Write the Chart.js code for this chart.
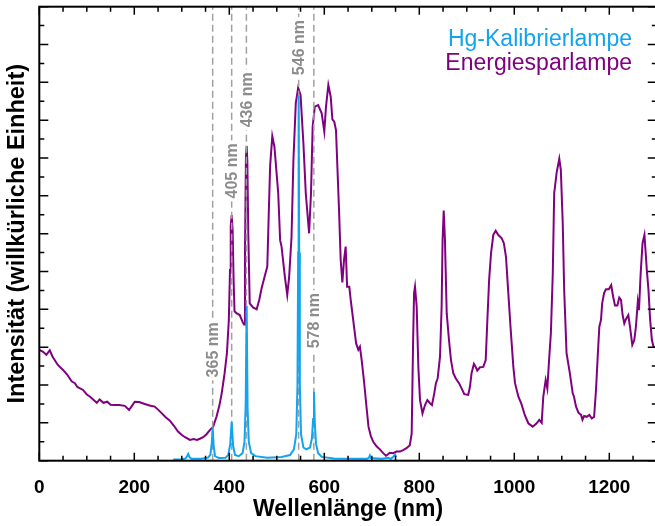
<!DOCTYPE html>
<html>
<head>
<meta charset="utf-8">
<script src="https://cdn.jsdelivr.net/npm/chart.js@4.4.1/dist/chart.umd.min.js"></script>
<style>
  html, body { margin: 0; padding: 0; background: #fff; overflow: hidden; }
  canvas { display: block; }
</style>
</head>
<body>
<canvas id="chart" width="658" height="526"></canvas>
<script>
// x tick labels (nm) and axis range
const xTicks = [0, 200, 400, 600, 800, 1000, 1200];
const xRange = [0, 1300];
const yRange = [0, 12];

// Hg lines marked with dashed verticals: [wavelength, label height]
const hgLines = [365, 405, 436, 546, 578];
const hgLabelY = [2.93, 7.66, 9.54, 10.92, 3.7];

// Energiesparlampe spectrum [nm, intensity]
const energiesparlampe = [
  [0,2.93],[8,2.88],[15,2.8],[22,2.92],[28,2.75],[39,2.53],[50,2.4],[59,2.27],[68,2.1],[75,2.05],
  [80,1.95],[92,1.87],[100,1.75],[107,1.69],[115,1.6],[121,1.53],[127,1.62],[135,1.53],[143,1.56],
  [150,1.48],[159,1.47],[168,1.47],[180,1.45],[189,1.34],[195,1.45],[201,1.56],[210,1.55],[222,1.5],
  [232,1.46],[243,1.43],[250,1.35],[258,1.25],[266,1.15],[275,1.06],[283,0.93],[292,0.77],[300,0.68],
  [307,0.62],[317,0.55],[325,0.57],[332,0.55],[338,0.58],[345,0.62],[352,0.7],[359,0.81],[366,0.9],
  [373,1.16],[379,1.45],[384,1.78],[390,2.3],[395,2.84],[399,3.72],[401.5,5.04],[403,6.2],[405,6.49],
  [407,6.1],[409,4.8],[411,3.95],[415,3.9],[422,3.85],[428,3.67],[431,3.6],[433,5.5],[435,8.0],
  [436.6,8.32],[438,7.9],[440,6.0],[443,4.16],[450,4.05],[457.6,4.0],[463,4.25],[468,4.56],[474,4.85],
  [480,5.13],[483,6.5],[486,7.8],[490.5,8.58],[495,8.3],[503,7.07],[507,5.83],[510,5.66],[517,4.86],
  [522,4.38],[526,4.86],[531,5.92],[535,7.95],[540,9.45],[545,9.86],[550,9.67],[556,8.39],[561,7.07],
  [568,6.01],[572,7.07],[575.5,8.83],[580,9.36],[587,9.4],[594.5,9.18],[600,8.7],[603.6,9.36],
  [608.5,9.93],[613.5,9.62],[617,9.02],[621,8.96],[624.6,8.74],[627,7.95],[631,6.63],[634.5,5.31],
  [638,4.71],[641.5,5.31],[645,5.66],[648,4.6],[652.6,4.6],[655.6,4.25],[661,3.7],[667,3.1],
  [671.6,2.93],[675,3.01],[678.7,2.66],[683.6,2.1],[689,1.4],[693,0.9],[698,0.65],[703,0.5],[710,0.38],
  [717,0.3],[724,0.2],[730,0.13],[738,0.21],[745,0.2],[752,0.24],[759,0.24],[766,0.28],[773,0.33],
  [780,0.41],[784,0.72],[787,3.19],[789,4.43],[791,4.6],[794.5,4.07],[798,2.48],[801.5,1.6],
  [806.7,1.25],[812,1.47],[817,1.6],[822.5,1.52],[826.7,1.47],[831.5,1.78],[835,2.05],[838.7,2.18],
  [843.6,2.75],[847,4.07],[849,5.83],[851.4,6.61],[854,5.83],[857.7,3.9],[862.5,3.19],[866.7,2.66],
  [871.6,2.31],[876.6,2.18],[883.6,2.05],[889,1.91],[894.7,1.76],[903,1.74],[906.7,1.96],[910,2.31],
  [915,2.56],[918.7,2.48],[922,2.38],[927.8,2.47],[934.7,2.48],[939.8,2.66],[943,3.63],[947,4.78],
  [951,5.48],[955.8,5.97],[960.8,6.08],[966,5.97],[973.5,5.88],[978,5.75],[982.5,5.39],[987,4.51],
  [992,3.54],[998,2.48],[1001.5,2.05],[1008.6,1.69],[1015,1.5],[1022,1.21],[1029.5,0.99],[1038.7,0.9],
  [1047,0.99],[1052.6,1.08],[1057.7,1.0],[1061,1.69],[1066,2.13],[1069.5,1.91],[1073.7,2.75],[1077,3.37],
  [1081,4.95],[1084,7.07],[1089,7.6],[1094.7,7.98],[1098,7.68],[1102,6.27],[1105,4.51],[1110,2.84],
  [1117,2.31],[1123,1.78],[1125.7,1.69],[1130,1.43],[1135,1.27],[1140.6,1.21],[1143.5,1.08],[1147,1.18],
  [1152.6,1.16],[1158,1.21],[1163,1.12],[1168,1.16],[1172,1.87],[1175.6,2.75],[1179,3.54],[1182.5,3.72],
  [1185,4.16],[1189,4.43],[1193,4.53],[1199,4.53],[1204,4.64],[1208,4.34],[1212,4.1],[1217,4.1],
  [1221,4.31],[1224.6,4.25],[1228,3.85],[1231.6,3.63],[1235,3.74],[1240,3.85],[1243.6,3.54],
  [1248.4,3.06],[1252.6,3.19],[1256,3.54],[1260,4.2],[1262.5,3.98],[1266,4.95],[1270,5.75],[1274,5.97],
  [1279,5.04],[1282.5,4.51],[1286,3.72],[1289.7,3.19],[1293,3.01],[1300,3.0]
];

// Hg-Kalibrierlampe spectrum [nm, intensity]
const hgKalibrier = [
  [282,0.03],[300,0.04],[308,0.06],[311,0.12],[313.5,0.18],[316,0.1],[320,0.05],[340,0.05],[355,0.08],
  [360,0.15],[363,0.45],[365,0.88],[367,0.4],[370,0.12],[378,0.07],[392,0.08],[398,0.15],[402,0.45],
  [405,1.03],[408,0.4],[412,0.15],[420,0.12],[428,0.2],[432,0.5],[434.5,1.5],[436.6,4.09],[438.5,1.4],
  [441,0.5],[446,0.2],[455,0.12],[480,0.08],[510,0.1],[528,0.15],[536,0.3],[541,0.7],[543.5,2.0],
  [545,5.5],[546,9.65],[547.2,5.5],[548.5,2.0],[551,0.7],[556,0.35],[562,0.3],[570,0.35],[574,0.6],
  [576.5,1.1],[578.3,1.82],[580,1.0],[582.5,0.45],[587,0.2],[595,0.1],[620,0.06],[660,0.05],[690,0.05],
  [694,0.08],[696,0.14],[698,0.07],[720,0.05],[735,0.08],[740,0.05],[745,0.1],[749,0.16],[751,0.1]
];

const purple = "#800080";
const blue = "#12a4ee";
const dashGray = "#a0a0a0";
const labelGray = "#8c8c8c";
const font = "'Liberation Sans', Arial, sans-serif";

const dashedSets = hgLines.map((nm) => ({
  data: [[nm, yRange[0]], [nm, yRange[1]]],
  borderColor: dashGray,
  borderWidth: 1.5,
  borderDash: [7, 4],
  pointRadius: 0,
  showLine: true,
  order: 1,
}));

const frameAndText = {
  id: "frameAndText",
  afterDatasetsDraw(chart) {
    const { ctx, chartArea: a, scales } = chart;
    const xs = scales.x, ys = scales.y;
    ctx.save();

    // labels on the dashed lines
    ctx.font = "bold 16px " + font;
    ctx.textAlign = "center";
    ctx.textBaseline = "middle";
    hgLines.forEach((nm, i) => {
      const txt = nm + " nm";
      const px = xs.getPixelForValue(nm);
      const py = ys.getPixelForValue(hgLabelY[i]);
      const w = ctx.measureText(txt).width;
      ctx.save();
      ctx.translate(px, py);
      ctx.rotate(-Math.PI / 2);
      ctx.fillStyle = "#fff";
      ctx.fillRect(-w / 2 - 3, -8, w + 6, 16);
      ctx.fillStyle = labelGray;
      ctx.fillText(txt, 0, 1);
      ctx.restore();
    });

    // frame
    ctx.strokeStyle = "#000";
    ctx.lineWidth = 2;
    ctx.strokeRect(a.left, a.top, a.right - a.left, a.bottom - a.top);

    // inward ticks on all sides
    ctx.lineWidth = 1.5;
    ctx.beginPath();
    for (let v = xRange[0]; v <= xRange[1]; v += 50) {
      const px = xs.getPixelForValue(v);
      const len = v % 200 === 0 ? 8 : 5;
      ctx.moveTo(px, a.bottom); ctx.lineTo(px, a.bottom - len);
      ctx.moveTo(px, a.top); ctx.lineTo(px, a.top + len);
    }
    for (let v = yRange[0]; v <= yRange[1]; v += 0.5) {
      const py = ys.getPixelForValue(v);
      const len = v % 1 === 0 ? 9 : 5;
      ctx.moveTo(a.left, py); ctx.lineTo(a.left + len, py);
      ctx.moveTo(a.right, py); ctx.lineTo(a.right - len, py);
    }
    ctx.stroke();

    // legend
    ctx.font = "23px " + font;
    ctx.textAlign = "right";
    ctx.textBaseline = "alphabetic";
    ctx.fillStyle = blue;
    ctx.fillText("Hg-Kalibrierlampe", 632, 46);
    ctx.fillStyle = purple;
    ctx.fillText("Energiesparlampe", 632, 69.5);
    ctx.restore();
  },
};

new Chart(document.getElementById("chart"), {
  type: "scatter",
  data: {
    datasets: [
      {
        label: "Hg-Kalibrierlampe",
        data: hgKalibrier,
        borderColor: blue,
        borderWidth: 2,
        pointRadius: 0,
        showLine: true,
        order: 0,
      },
      ...dashedSets,
      {
        label: "Energiesparlampe",
        data: energiesparlampe,
        borderColor: purple,
        borderWidth: 2,
        pointRadius: 0,
        showLine: true,
        order: 2,
      },
    ],
  },
  options: {
    responsive: false,
    animation: false,
    layout: { padding: { top: 6.7, right: 1.2, left: 0, bottom: 0 } },
    plugins: { legend: { display: false }, tooltip: { enabled: false } },
    scales: {
      x: {
        type: "linear",
        min: xRange[0],
        max: xRange[1],
        afterBuildTicks: (s) => { s.ticks = xTicks.map((v) => ({ value: v })); },
        afterFit: (s) => { s.height = 65.3; },
        grid: { display: false, drawTicks: false },
        border: { display: false },
        ticks: {
          padding: 16,
          color: "#000",
          maxRotation: 0,
          callback: (v) => String(v),
          font: { family: font, size: 19, weight: "bold" },
        },
        title: {
          display: true,
          text: "Wellenlänge (nm)",
          color: "#000",
          padding: { top: 0, bottom: 3 },
          font: { family: font, size: 23, weight: "bold" },
        },
      },
      y: {
        type: "linear",
        min: yRange[0],
        max: yRange[1],
        afterFit: (s) => { s.width = 39.3; },
        grid: { display: false, drawTicks: false },
        border: { display: false },
        ticks: { display: false },
        title: {
          display: true,
          text: "Intensität (willkürliche Einheit)",
          color: "#000",
          padding: { top: 3, bottom: 0 },
          font: { family: font, size: 23.5, weight: "bold" },
        },
      },
    },
  },
  plugins: [frameAndText],
});
</script>
</body>
</html>
